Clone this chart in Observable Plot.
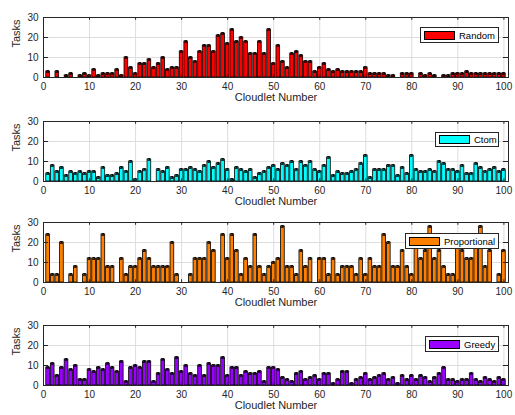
<!DOCTYPE html>
<html><head><meta charset="utf-8">
<script src="https://cdn.jsdelivr.net/npm/d3@7"></script>
<script src="https://cdn.jsdelivr.net/npm/@observablehq/plot@0.6"></script>
<style>
body{margin:0;background:#fff;}
#fig{position:relative;width:515px;height:415px;background:#fff;font-family:"Liberation Sans",Arial,Helvetica,sans-serif;overflow:hidden;}
.panel{position:absolute;left:0;}
.legend{position:absolute;background:#fff;border:1px solid #262626;box-sizing:border-box;font-size:9.5px;color:#000;display:flex;align-items:center;}
.legend .patch{width:31px;height:9px;border:1px solid #000;box-sizing:border-box;margin-left:3px;margin-right:4px;}
</style></head>
<body><div id="fig"></div>
<script>
// ---- data ----
const cloudlets = d3.range(1, 101);
const xTicks = [0, 10, 20, 30, 40, 50, 60, 70, 80, 90, 100];
const yTicks = [0, 10, 20, 30];
const seriesNames = ["Random", "Ctom", "Proportional", "Greedy"];

const random = [3,0,3,0,1,2,0,1,2,1, 4,1,2,2,2,4,1,10,5,2, 7,7,9,5,7,10,4,5,5,13,
  18,10,8,13,16,16,13,21,22,17, 24,18,20,18,12,12,18,12,24,7, 16,8,5,12,13,11,8,8,3,5,
  7,4,3,4,3,3,3,3,3,5, 2,2,2,2,1,1,0,2,2,2, 0,2,1,2,1,0,1,1,2,2, 2,3,2,2,2,2,2,2,2,2];
const ctom = [4,8,5,7,3,5,4,5,4,5, 5,2,7,3,3,4,7,5,10,1, 5,6,11,0,6,5,7,2,3,6,
  6,7,6,5,8,10,7,9,11,6, 1,7,6,5,6,2,4,5,7,8, 6,9,8,10,6,10,8,10,6,5,
  8,12,3,5,4,4,5,6,9,13, 2,6,6,6,8,8,3,7,4,13, 6,5,5,6,5,10,9,6,6,5, 8,4,4,9,7,5,6,7,5,6];
const proportional = [24,4,4,20,0,4,8,0,4,12, 12,12,24,8,8,0,12,4,8,8, 12,16,12,8,8,8,8,20,4,0,
  0,4,12,12,12,20,16,0,24,12, 24,16,4,12,8,24,8,4,8,10, 12,28,8,8,4,16,8,12,0,12,
  12,4,12,4,8,8,8,4,12,4, 12,8,8,24,20,8,8,16,8,4, 24,12,16,28,12,16,8,4,4,24, 16,12,12,20,28,8,16,0,4,16];
const greedy = [9,11,5,9,13,8,10,3,3,8, 7,9,8,11,9,7,12,2,9,10, 9,12,12,2,6,13,8,6,14,7,
  10,6,5,10,5,11,10,10,14,5, 9,9,5,7,6,6,7,2,9,9, 8,4,3,2,6,7,3,4,5,3,
  6,6,1,3,7,7,1,3,4,6, 3,4,5,6,3,4,1,5,3,5, 3,5,4,2,4,6,9,3,3,2, 3,3,6,3,2,4,3,2,4,3];
const seriesValues = [random, ctom, proportional, greedy];

// ---- styles / layout ----
const colors = ["#ff0000", "#00ffff", "#ff8000", "#9900ff"];
const panelTops = [1, 105, 206, 309];
const legendBoxes = [
  {left: 420, top: 27, width: 79, height: 16},
  {left: 435, top: 132, width: 64, height: 15},
  {left: 405, top: 233, width: 94, height: 16},
  {left: 425, top: 336, width: 74, height: 16}
];
const ink = "#262626";
const fig = document.getElementById("fig");

function panel(vals, color) {
  const data = vals.map((v, k) => ({c: cloudlets[k], v}));
  const pos = data.filter(d => d.v > 0);
  const e = 0.4;
  return Plot.plot({
    width: 515, height: 104,
    marginTop: 16, marginBottom: 28, marginLeft: 43, marginRight: 7,
    x: {domain: [0, 101]},
    y: {domain: [0, 30]},
    style: {fontFamily: '"Liberation Sans", Arial, Helvetica, sans-serif', fontSize: "10px", color: ink, background: "transparent", overflow: "visible"},
    marks: [
      Plot.gridX({ticks: xTicks, stroke: "#dedede", strokeOpacity: 1}),
      Plot.gridY({ticks: yTicks, stroke: "#dedede", strokeOpacity: 1}),
      Plot.rectY(data, {x1: d => d.c - 0.4, x2: d => d.c + 0.4, y1: 0, y2: "v", fill: color, stroke: "black", strokeWidth: 0.8}),
      Plot.ruleX(pos, {x: "c", y1: d => d.v - e, y2: d => d.v + e, stroke: "black", strokeWidth: 1}),
      Plot.ruleY(pos, {y: d => d.v + e, x1: d => d.c - 0.3, x2: d => d.c + 0.3, stroke: "black", strokeWidth: 1}),
      Plot.ruleY(pos, {y: d => d.v - e, x1: d => d.c - 0.3, x2: d => d.c + 0.3, stroke: "black", strokeWidth: 1}),
      // inner ticks (box on)
      Plot.ruleX(xTicks, {x: d => d, y1: 0, y2: 1.4, stroke: ink}),
      Plot.ruleX(xTicks, {x: d => d, y1: 30, y2: 28.6, stroke: ink}),
      Plot.ruleY(yTicks, {y: d => d, x1: 0, x2: 1.1, stroke: ink}),
      Plot.ruleY(yTicks, {y: d => d, x1: 101, x2: 99.9, stroke: ink}),
      Plot.frame({stroke: ink, strokeWidth: 1}),
      Plot.axisX({ticks: xTicks, tickSize: 0, tickPadding: 5, label: null, fill: ink}),
      Plot.axisY({ticks: yTicks, tickSize: 0, tickPadding: 5, label: null, fill: ink}),
      Plot.text(["Cloudlet Number"], {frameAnchor: "bottom", dy: 23, fontSize: 11, fill: ink}),
      Plot.text(["Tasks"], {frameAnchor: "left", dx: -27, rotate: -90, fontSize: 11, fill: ink})
    ]
  });
}

seriesValues.forEach((vals, k) => {
  const wrap = document.createElement("div");
  wrap.className = "panel";
  wrap.style.top = panelTops[k] + "px";
  wrap.appendChild(panel(vals, colors[k]));
  fig.appendChild(wrap);

  const lb = legendBoxes[k];
  const lg = document.createElement("div");
  lg.className = "legend";
  Object.assign(lg.style, {left: lb.left + "px", top: lb.top + "px", width: lb.width + "px", height: lb.height + "px"});
  const patch = document.createElement("div");
  patch.className = "patch";
  patch.style.background = colors[k];
  const txt = document.createElement("span");
  txt.textContent = seriesNames[k];
  lg.appendChild(patch);
  lg.appendChild(txt);
  fig.appendChild(lg);
});
</script>
</body></html>
